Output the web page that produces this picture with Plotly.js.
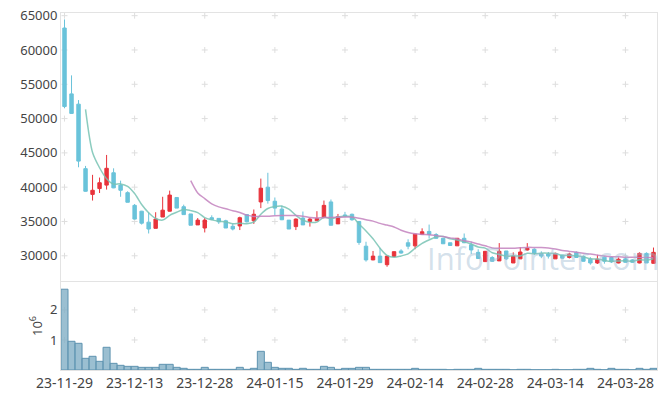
<!DOCTYPE html>
<html>
<head>
<meta charset="utf-8">
<script src="https://cdn.plot.ly/plotly-3.0.1.min.js"></script>
<style>html,body{margin:0;padding:0;background:#fff;}#chart{width:665px;height:399px;}</style>
</head>
<body>
<div id="chart"></div>
<script>
// ---- data ----
const dates = [
  "23-11-29","23-11-30",
  "23-12-01","23-12-04","23-12-05","23-12-06","23-12-07","23-12-08","23-12-11","23-12-12","23-12-13","23-12-14",
  "23-12-15","23-12-18","23-12-19","23-12-20","23-12-21","23-12-22","23-12-26","23-12-27","23-12-28",
  "24-01-02","24-01-03","24-01-04","24-01-05","24-01-08","24-01-09","24-01-10","24-01-11","24-01-12","24-01-15",
  "24-01-16","24-01-17","24-01-18","24-01-19","24-01-22","24-01-23","24-01-24","24-01-25","24-01-26","24-01-29",
  "24-01-30","24-01-31","24-02-01","24-02-02","24-02-05","24-02-06","24-02-07","24-02-08","24-02-13","24-02-14",
  "24-02-15","24-02-16","24-02-19","24-02-20","24-02-21","24-02-22","24-02-23","24-02-26","24-02-27","24-02-28",
  "24-02-29","24-03-04","24-03-05","24-03-06","24-03-07","24-03-08","24-03-11","24-03-12","24-03-13","24-03-14",
  "24-03-15","24-03-18","24-03-19","24-03-20","24-03-21","24-03-22","24-03-25","24-03-26","24-03-27","24-03-28",
  "24-03-29","24-04-01","24-04-02","24-04-03"
];
const openP = [63200,53600,52100,42700,38950,39800,40300,42100,40300,39200,37350,36500,34900,34000,35650,36500,38500,37150,36100,34500,
  34050,35550,35450,35100,34300,34350,36000,35100,37850,40000,37950,36800,35200,34250,35500,35000,35100,35600,37850,34650,
  35950,36050,35000,31400,29400,29950,28700,29900,30700,31900,31450,33100,33550,33100,32550,31900,31450,32550,31600,30500,
  29150,29750,29250,30700,28950,29550,30850,30950,30350,30250,29550,30100,29750,30500,29900,29500,28950,29800,29750,28950,
  29550,29400,28950,30350,28900];
const highP = [64450,56300,52700,43100,41800,41400,44700,42750,40950,39400,37550,36550,36350,36350,38600,39500,38500,37450,36100,35500,
  35500,35900,35450,35250,34700,35700,36000,36750,41250,42100,38500,37350,35200,35450,36450,35550,36500,38050,38200,36100,
  36400,36150,35000,32050,30700,31150,30000,30600,30950,32400,33150,34000,34550,33300,32550,31900,32600,33250,32050,30950,
  30700,29950,31850,30700,30500,31250,31850,31100,30650,30550,30450,30150,30450,30650,30050,29800,30150,29900,29900,29750,
  29750,29500,30500,30500,31200];
const lowP = [51500,50700,42900,39350,38050,39150,39650,39850,38600,37800,35300,34550,33250,34000,35650,36450,36950,36000,34450,34500,
  33400,35200,34650,34050,33700,33750,34850,34650,36950,37600,35900,35200,33900,33750,34500,34250,35100,35450,34450,34650,
  35600,35100,31600,29150,29350,28950,28400,29850,30300,30950,30950,33100,32500,32500,31750,31450,31450,31850,30250,29600,
  29100,29100,29250,29400,28950,29550,30750,30100,29650,29600,29550,29600,29600,29750,29150,28700,28800,28850,28950,28900,
  29000,29000,28900,28950,28900];
const closeP = [51750,50750,43800,39400,39550,40650,42750,39900,39550,37800,35350,34750,33900,35350,36650,38850,36950,36000,34450,35200,
  35200,35300,34950,34050,33900,35550,34950,36050,39850,38050,36950,35250,33900,35350,34500,35350,35450,37350,34450,35700,
  35800,35250,31950,29400,29950,29000,29950,30600,30400,31400,33150,33500,33100,32550,31750,31500,32550,31900,30850,29600,
  30650,29200,30650,29550,29950,30550,31100,30350,29950,29950,30350,29650,30250,29750,29200,28950,29500,29200,29100,29500,
  29050,29050,30350,28950,30500];
const volume = [2690000,956000,889000,389000,456000,289000,756000,222000,156000,122000,122000,89000,89000,89000,189000,189000,89000,56000,22000,22000,
  89000,22000,22000,22000,22000,89000,22000,56000,622000,256000,89000,56000,56000,22000,56000,22000,22000,122000,89000,22000,
  55000,55000,89000,89000,22000,22000,22000,22000,22000,22000,55000,22000,22000,22000,22000,8000,22000,22000,22000,55000,
  22000,22000,22000,22000,8000,22000,22000,8000,8000,8000,22000,8000,8000,22000,22000,55000,22000,8000,55000,22000,
  22000,8000,55000,22000,55000];
// close of the trading day before the first shown day (needed by the moving averages)
const priorCloses = [71000];
const maPeriods = [5, 20];
const priceTicks = [30000,35000,40000,45000,50000,55000,60000,65000];
const volTicks = [1000000, 2000000];
const volTickText = ["1", "2"];
const xTickEvery = 10;
const watermark = "InfoPointer.com";

// ---- derived ----
function movingAverage(period) {
  const all = priorCloses.concat(closeP);
  const off = priorCloses.length;
  const xs = [], ys = [];
  for (let i = 0; i < closeP.length; i++) {
    const j = i + off;
    if (j + 1 < period) continue;
    let s = 0;
    for (let k = j - period + 1; k <= j; k++) s += all[k];
    xs.push(dates[i]); ys.push(s / period);
  }
  return {xs, ys};
}
const xTicks = dates.filter((d, i) => i % xTickEvery === 0);

const UP = '#e8333b', DOWN = '#6ac3da';
const traces = [];

traces.push({
  type: 'candlestick', x: dates, open: openP, high: highP, low: lowP, close: closeP,
  xaxis: 'x2', yaxis: 'y2', showlegend: false,
  increasing: {line: {color: UP, width: 1}, fillcolor: UP},
  decreasing: {line: {color: DOWN, width: 1}, fillcolor: DOWN}
});
const maColors = ['rgba(120,195,180,0.85)', 'rgba(195,130,190,0.85)'];
maPeriods.forEach((p, n) => {
  const m = movingAverage(p);
  traces.push({type: 'scatter', mode: 'lines', x: m.xs, y: m.ys, xaxis: 'x2', yaxis: 'y2',
    line: {color: maColors[n], width: 1.5, shape: 'spline', smoothing: 0.8}, showlegend: false, hoverinfo: 'skip'});
});
traces.push({type: 'bar', x: dates, y: volume, xaxis: 'x', yaxis: 'y', showlegend: false,
  marker: {color: 'rgba(130,175,198,0.8)', line: {color: '#5e93b0', width: 1}}});

// grid drawn as small crosses at tick intersections (below the data)
const shapes = [];
const crossLine = {color: '#dedede', width: 1};
function addCross(xv, yv, xr, yr) {
  shapes.push({type: 'line', layer: 'below', xref: xr, yref: yr, xsizemode: 'pixel', xanchor: xv, x0: -3, x1: 3,
    y0: yv, y1: yv, line: crossLine});
  shapes.push({type: 'line', layer: 'below', xref: xr, yref: yr, ysizemode: 'pixel', yanchor: yv, y0: -3, y1: 3,
    x0: xv, x1: xv, line: crossLine});
}
xTicks.forEach(d => {
  priceTicks.forEach(p => addCross(d, p, 'x2', 'y2'));
  volTicks.forEach(v => addCross(d, v, 'x', 'y'));
});

const tickFont = {family: 'Noto Sans, sans-serif', size: 13, color: '#444'};
const layout = {
  width: 665, height: 399,
  margin: {l: 61, r: 8, t: 13, b: 29},
  paper_bgcolor: '#fff', plot_bgcolor: '#fff',
  bargap: 0,
  font: tickFont,
  shapes: shapes,
  xaxis: {type: 'category', categoryorder: 'array', categoryarray: dates, range: [-0.5, dates.length - 0.5],
    anchor: 'y', tickvals: xTicks, ticktext: xTicks, showgrid: false, zeroline: false,
    showline: true, mirror: true, linecolor: '#e3e3e3', ticks: '',
    tickfont: {family: 'Noto Sans, sans-serif', size: 14, color: '#444'},
    rangeslider: {visible: false}},
  xaxis2: {type: 'category', matches: 'x', anchor: 'y2', showticklabels: false, showgrid: false, zeroline: false,
    showline: true, mirror: true, linecolor: '#e3e3e3', ticks: '', rangeslider: {visible: false}},
  yaxis: {domain: [0, 0.2465], range: [0, 2930000], tickvals: volTicks, ticktext: volTickText,
    showgrid: false, zeroline: false, showline: true, mirror: true, linecolor: '#e3e3e3', ticks: '',
    tickfont: tickFont, title: {text: '10<sup>6</sup>', font: {family: 'Noto Sans, sans-serif', size: 13, color: '#444'}, standoff: 4}},
  yaxis2: {domain: [0.25, 1], range: [26360, 65390], tickvals: priceTicks, tickformat: 'd',
    showgrid: false, zeroline: false, showline: true, mirror: true, linecolor: '#e3e3e3', ticks: '',
    tickfont: tickFont},
  annotations: [{text: watermark, xref: 'paper', yref: 'paper', x: 0.809, y: 0.314, xanchor: 'center', yanchor: 'middle',
    showarrow: false, font: {family: 'Open Sans, sans-serif', size: 31, color: 'rgba(160,188,210,0.45)'}}]
};
Plotly.newPlot('chart', traces, layout, {displayModeBar: false, staticPlot: true});
</script>
</body>
</html>
